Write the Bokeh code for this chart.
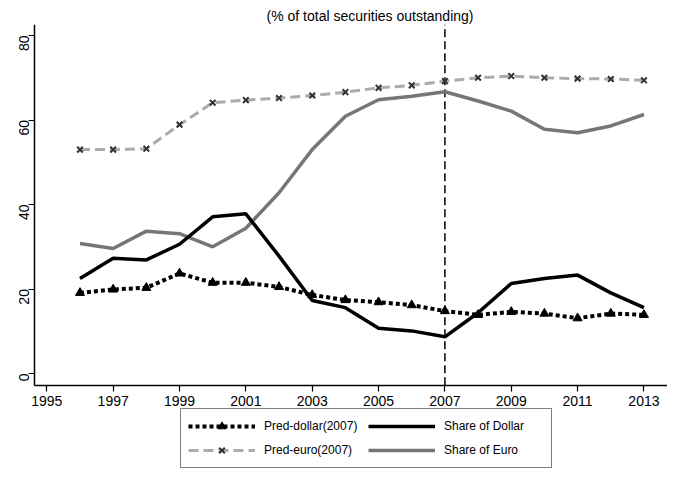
from bokeh.plotting import figure
from bokeh.models import Range1d, FixedTicker, Legend, LegendItem, Title
from bokeh.embed import file_html
from bokeh.resources import INLINE
import math

years = list(range(1996, 2014))
pred_dollar = [19.1, 19.9, 20.3, 23.7, 21.5, 21.5, 20.5, 18.6, 17.4, 16.9, 16.2, 14.8, 13.9, 14.6, 14.2, 13.1, 14.2, 13.9]
pred_euro = [53.0, 53.0, 53.2, 58.9, 64.1, 64.7, 65.2, 65.8, 66.6, 67.6, 68.2, 69.2, 70.0, 70.4, 70.0, 69.8, 69.7, 69.4]
share_dollar = [22.5, 27.3, 26.9, 30.6, 37.1, 37.8, 27.8, 17.3, 15.6, 10.7, 10.1, 8.7, 14.4, 21.3, 22.5, 23.3, 19.1, 15.6]
share_euro = [30.8, 29.6, 33.7, 33.1, 30.0, 34.4, 42.8, 53.0, 60.9, 64.8, 65.6, 66.7, 64.5, 62.1, 57.8, 57.0, 58.6, 61.3]
x_ticks = list(range(1995, 2014, 2))
y_ticks = [0, 20, 40, 60, 80]
ref_year = 2007
title_text = "(% of total securities outstanding)"
labels = ["Pred-dollar(2007)", "Pred-euro(2007)", "Share of Dollar", "Share of Euro"]

FONT = "Liberation Sans"
X_LO, X_HI = 1994.64, 2013.71   # visible axis extent
Y_LO, Y_HI = -2.77, 82.6
X_FRAME_LO = 1993.664           # frame reaches left so axis labels are not clipped
Y_FRAME_LO = -22.7              # frame continues below the x axis to hold the legend

p = figure(width=667, height=469, output_backend="svg", toolbar_location=None,
           x_range=Range1d(X_FRAME_LO, X_HI), y_range=Range1d(Y_FRAME_LO, Y_HI),
           min_border_left=2, min_border_right=0, min_border_top=24, min_border_bottom=0)
p.outline_line_color = None
p.grid.visible = False

p.title = Title(text=title_text, align="left", offset=264, text_font_size="14px",
                text_font=FONT, text_font_style="normal", standoff=2, text_color="black")

for ax in (p.xaxis[0], p.yaxis[0]):
    ax.axis_line_color = "black"
    ax.axis_line_width = 1.5
    ax.major_tick_line_color = "black"
    ax.major_tick_line_width = 1.2
    ax.major_tick_in = 0
    ax.major_tick_out = 6
    ax.minor_tick_line_color = None
    ax.major_label_text_font = FONT
    ax.major_label_text_font_size = "14px"
    ax.major_label_text_color = "black"
    ax.major_label_standoff = 5

p.xaxis[0].ticker = FixedTicker(ticks=x_ticks)
p.xaxis[0].fixed_location = Y_LO
p.xaxis[0].bounds = (X_LO, X_HI)
p.yaxis[0].ticker = FixedTicker(ticks=y_ticks)
p.yaxis[0].fixed_location = X_LO
p.yaxis[0].bounds = (Y_LO, Y_HI)
p.yaxis[0].major_label_orientation = math.pi / 2

# vertical reference line at 2007 (axis extent only)
p.segment(x0=[ref_year], y0=[Y_LO], x1=[ref_year], y1=[Y_HI],
          line_color="black", line_width=1.5, line_dash="8 4")

se = p.line(years, share_euro, line_color="#767676", line_width=3.5)
sd = p.line(years, share_dollar, line_color="black", line_width=3.5)
pe_l = p.line(years, pred_euro, line_color="#ababab", line_width=3, line_dash="10 5")
pe_m = p.scatter(years, pred_euro, marker="x", size=8, line_color="#333333", line_width=2)
pd_l = p.line(years, pred_dollar, line_color="black", line_width=4, line_dash="4 3")
pd_m = p.scatter(years, pred_dollar, marker="triangle", size=9, fill_color="black", line_color="black")

legend = Legend(items=[
    LegendItem(label=labels[0], renderers=[pd_l, pd_m]),
    LegendItem(label=labels[1], renderers=[pe_l, pe_m]),
    LegendItem(label=labels[2], renderers=[sd]),
    LegendItem(label=labels[3], renderers=[se]),
], ncols=2, location=(178, 1), margin=0, padding=7, spacing=4,
    glyph_width=67, glyph_height=20, label_height=20, label_width=100, label_standoff=9,
    label_text_font=FONT, label_text_font_size="12px", label_text_color="black",
    border_line_color="black", border_line_width=1,
    background_fill_color="white", background_fill_alpha=1)
p.add_layout(legend)

open("out.html", "w").write(file_html(p, INLINE))
